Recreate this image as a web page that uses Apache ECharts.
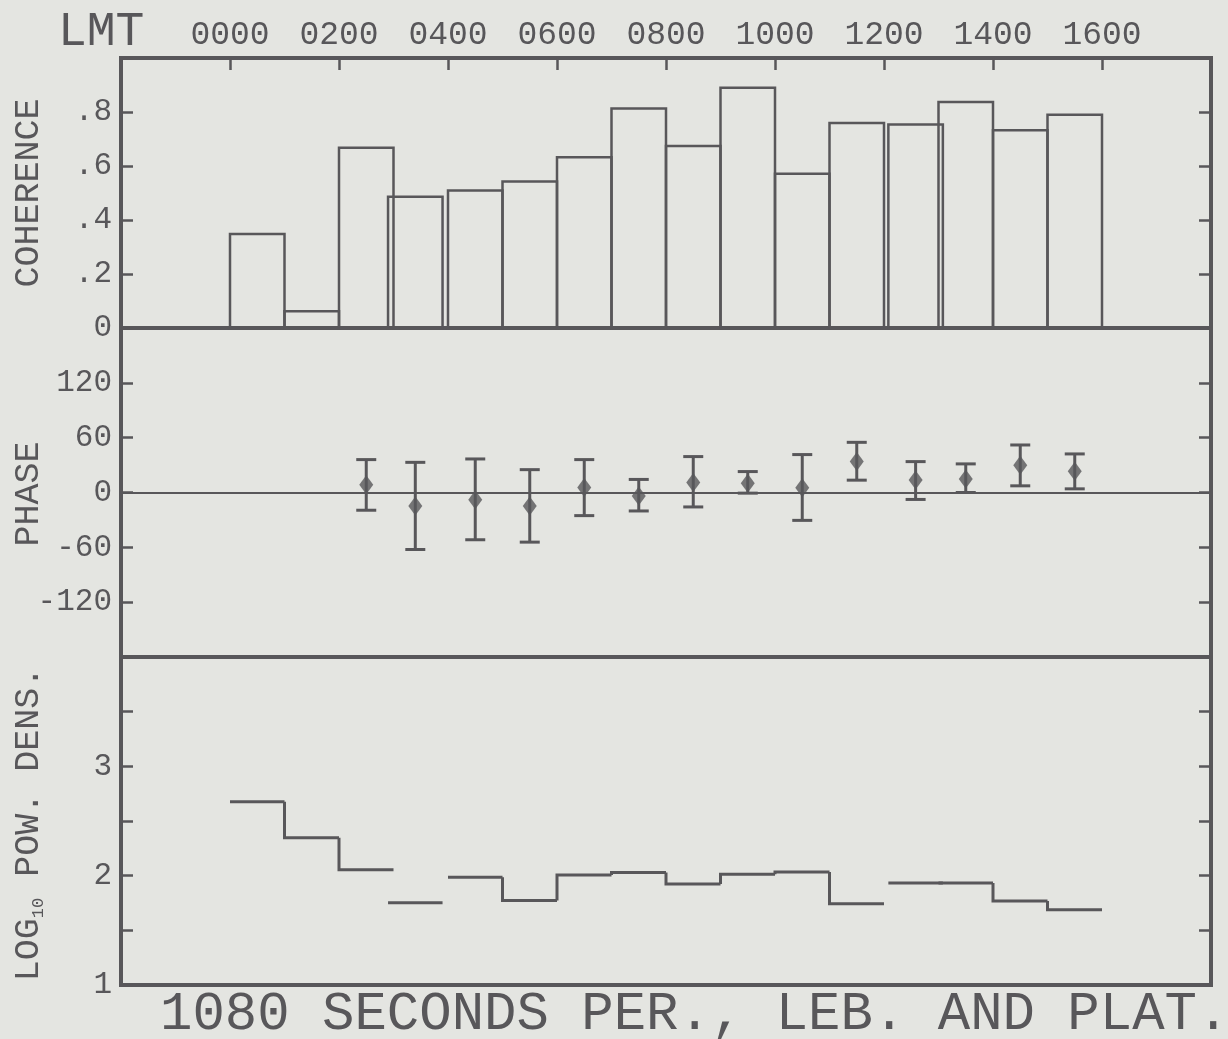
<!DOCTYPE html>
<html>
<head>
<meta charset="utf-8">
<title>Coherence, phase and power density</title>
<script src="https://cdn.jsdelivr.net/npm/echarts@6/dist/echarts.min.js"></script>
<style>
  html, body { margin: 0; padding: 0; background: #e4e5e1; }
  #chart { width: 1228px; height: 1039px; }
</style>
</head>
<body>
<div id="chart"></div>
<script>
// Hourly analysis bins (start time in hours LMT), each one hour long
const hourStart = [0, 1, 2, 2.9, 4, 5, 6, 7, 8, 9, 10, 11, 12.08, 13, 14, 15];
const binWidth = 1;

// Squared coherence per bin
const coherence = [0.348, 0.062, 0.668, 0.486, 0.509, 0.543, 0.632, 0.813,
                   0.674, 0.890, 0.571, 0.759, 0.754, 0.837, 0.732, 0.790];

// Phase (degrees) with confidence limits; first two bins have none
const phase     = [null, null, 8.4, -14.7, -8.0, -14.7, 5.5, -3.7,
                   11.0, 10.2, 5.1, 33.8, 13.8, 14.9, 29.8, 23.3];
const phaseLow  = [null, null, -19.4, -62.4, -51.7, -54.3, -25.3, -20.2,
                   -15.8, -0.7, -30.5, 13.5, -7.6, 0.0, 7.3, 4.0];
const phaseHigh = [null, null, 36.0, 33.0, 36.7, 25.0, 36.0, 14.3,
                   39.3, 22.9, 41.5, 54.9, 33.8, 31.3, 52.0, 42.2];

// log10 power density per bin
const logPower = [2.676, 2.346, 2.055, 1.752, 1.985, 1.774, 2.006, 2.030,
                  1.924, 2.012, 2.034, 1.743, 1.933, 1.933, 1.768, 1.688];

// Tick labels
const lmtLabels   = ['0000', '0200', '0400', '0600', '0800', '1000', '1200', '1400', '1600'];
const cohTicks    = ['0', '.2', '.4', '.6', '.8'];
const phaseTicks  = ['-120', '-60', '0', '60', '120'];
const powerTicks  = ['1', '2', '3'];

const INK = '#58575a';
const FONT = 'Liberation Mono';

const chart = echarts.init(document.getElementById('chart'), null, { renderer: 'canvas' });

const coherenceData = hourStart.map((s, i) => [s, s + binWidth, coherence[i]]);

const phasePoints = [];
const phaseBars = [];
hourStart.forEach((s, i) => {
  if (phase[i] === null) return;
  const c = s + binWidth / 2;
  phasePoints.push([c, phase[i]]);
  phaseBars.push([c, phaseLow[i], phaseHigh[i]]);
});

const powerData = hourStart.map((s, i) => {
  const joined = i > 0 && Math.abs(s - (hourStart[i - 1] + binWidth)) < 0.01;
  return [s, s + binWidth, logPower[i], i > 0 ? logPower[i - 1] : logPower[i], joined ? 1 : 0];
});

const gridBase = { left: 121, width: 1090, show: true, borderColor: INK, borderWidth: 4,
                   backgroundColor: 'transparent' };

const tickStyle = { show: true, inside: true, length: 12, lineStyle: { color: INK, width: 2.5 } };
const labelStyle = { color: INK, fontFamily: FONT, fontSize: 31, margin: 9 };
const noLine = { show: false, onZero: false };

function xAxisFor(gridIndex, visible) {
  return {
    type: 'value', gridIndex, min: -2, max: 18, interval: 2,
    position: 'top',
    show: visible,
    axisLine: noLine,
    splitLine: { show: false },
    axisTick: tickStyle,
    axisLabel: {
      show: visible, color: INK, fontFamily: FONT, fontSize: 33, margin: 6,
      formatter: v => (v >= 0 && v <= 16) ? lmtLabels[v / 2] : ''
    }
  };
}

function yPair(gridIndex, min, max, interval, formatter) {
  return [
    {
      type: 'value', gridIndex, min, max, interval, position: 'left',
      axisLine: noLine, splitLine: { show: false },
      axisTick: tickStyle,
      axisLabel: Object.assign({ formatter, showMinLabel: true, showMaxLabel: true }, labelStyle)
    },
    {
      type: 'value', gridIndex, min, max, interval, position: 'right',
      axisLine: noLine, splitLine: { show: false },
      axisTick: tickStyle,
      axisLabel: { show: false }
    }
  ];
}

const option = {
  backgroundColor: '#e4e5e1',
  animation: false,
  grid: [
    Object.assign({ top: 58, height: 270 }, gridBase),
    Object.assign({ top: 328, height: 329 }, gridBase),
    Object.assign({ top: 657, height: 328 }, gridBase)
  ],
  xAxis: [xAxisFor(0, true), xAxisFor(1, false), xAxisFor(2, false)],
  yAxis: [
    ...yPair(0, 0, 1, 0.2, v => {
      const i = Math.round(v / 0.2);
      return i < cohTicks.length ? cohTicks[i] : '';
    }),
    ...yPair(1, -180, 180, 60, v => (Math.abs(v) >= 180 ? '' : phaseTicks[Math.round((v + 120) / 60)])),
    ...yPair(2, 1, 4, 0.5, v => (Number.isInteger(v) && v <= 3 ? powerTicks[v - 1] : ''))
  ],
  series: [
    {
      // coherence histogram, one open box per bin
      type: 'custom', name: 'Coherence', xAxisIndex: 0, yAxisIndex: 0,
      data: coherenceData,
      renderItem: (params, api) => {
        const top = api.coord([api.value(0), api.value(2)]);
        const bot = api.coord([api.value(1), 0]);
        return {
          type: 'rect',
          shape: { x: top[0], y: top[1], width: bot[0] - top[0], height: bot[1] - top[1] },
          style: { fill: 'none', stroke: INK, lineWidth: 2.5 }
        };
      }
    },
    {
      // phase confidence limits
      type: 'custom', name: 'Phase limits', xAxisIndex: 1, yAxisIndex: 2,
      data: phaseBars, z: 3,
      renderItem: (params, api) => {
        const lo = api.coord([api.value(0), api.value(1)]);
        const hi = api.coord([api.value(0), api.value(2)]);
        const w = 10;
        const style = { stroke: INK, lineWidth: 3 };
        return {
          type: 'group',
          children: [
            { type: 'line', shape: { x1: lo[0], y1: lo[1], x2: hi[0], y2: hi[1] }, style },
            { type: 'line', shape: { x1: hi[0] - w, y1: hi[1], x2: hi[0] + w, y2: hi[1] }, style },
            { type: 'line', shape: { x1: lo[0] - w, y1: lo[1], x2: lo[0] + w, y2: lo[1] }, style }
          ]
        };
      }
    },
    {
      type: 'scatter', name: 'Phase', xAxisIndex: 1, yAxisIndex: 2,
      data: phasePoints, symbol: 'diamond', symbolSize: [14, 19], z: 4,
      itemStyle: { color: INK },
      markLine: {
        silent: true, symbol: ['none', 'none'],
        label: { show: false },
        lineStyle: { color: INK, width: 2.2, type: 'solid' },
        data: [{ yAxis: 0 }]
      }
    },
    {
      // log10 power density as a stepped trace
      type: 'custom', name: 'Power', xAxisIndex: 2, yAxisIndex: 4,
      data: powerData,
      renderItem: (params, api) => {
        const a = api.coord([api.value(0), api.value(2)]);
        const b = api.coord([api.value(1), api.value(2)]);
        const pts = [];
        if (api.value(4) === 1) pts.push(api.coord([api.value(0), api.value(3)]));
        pts.push(a, b);
        return {
          type: 'polyline',
          shape: { points: pts },
          style: { fill: 'none', stroke: INK, lineWidth: 3 }
        };
      }
    }
  ],
  graphic: [
    {
      type: 'text', left: 58, top: 8,
      style: { text: 'LMT', font: '48px "' + FONT + '"', fill: INK }
    },
    {
      type: 'text', x: 29, y: 193, rotation: Math.PI / 2,
      style: { text: 'COHERENCE', font: '35px "' + FONT + '"', fill: INK,
               align: 'center', verticalAlign: 'middle' }
    },
    {
      type: 'text', x: 29, y: 494, rotation: Math.PI / 2,
      style: { text: 'PHASE', font: '35px "' + FONT + '"', fill: INK,
               align: 'center', verticalAlign: 'middle' }
    },
    {
      type: 'text', x: 29, y: 824, rotation: Math.PI / 2,
      style: {
        text: '{a|LOG}{s|10}{a| POW. DENS.}',
        align: 'center', verticalAlign: 'middle',
        rich: {
          a: { fontFamily: FONT, fontSize: 35, fill: INK, color: INK, verticalAlign: 'bottom' },
          s: { fontFamily: FONT, fontSize: 17, fill: INK, color: INK, verticalAlign: 'bottom' }
        }
      }
    },
    {
      type: 'text', left: 160, top: 988,
      style: { text: '1080 SECONDS PER., LEB. AND PLAT.', font: '54px "' + FONT + '"', fill: INK }
    }
  ]
};

chart.setOption(option);
</script>
</body>
</html>
